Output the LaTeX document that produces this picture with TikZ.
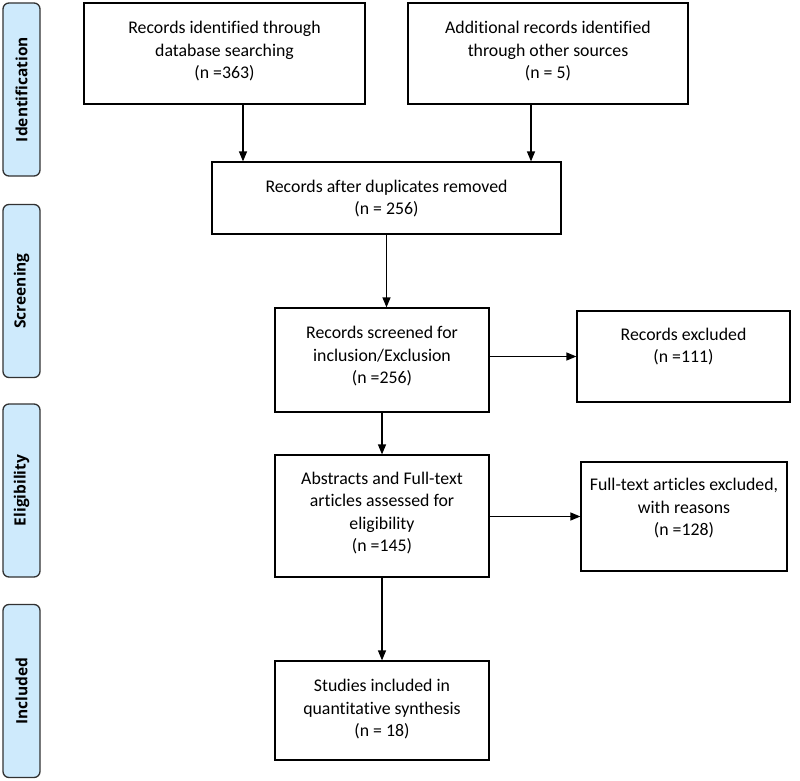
\documentclass[tikz,border=0pt]{standalone}
\usepackage{fontspec}
\setmainfont{Carlito}[Ligatures=NoCommon]
\newfontfamily\sidefont{Open Sans}
\usetikzlibrary{arrows.meta,calc}
\definecolor{sideblue}{RGB}{206,234,252}
\definecolor{sideedge}{RGB}{50,50,50}
\begin{document}
\begin{tikzpicture}[x=1pt,y=-1pt,
  boxnode/.style={draw=black,line width=1.2pt,inner sep=0pt},
  txt/.style={anchor=north,align=center,inner sep=0pt,font=\fontsize{17.8}{22.5}\selectfont},
  sidebox/.style={draw=sideedge,fill=sideblue,line width=1.3pt,rounded corners=6pt,inner sep=0pt,minimum width=37pt,minimum height=173pt},
  sidetxt/.style={rotate=90,font=\sidefont\bfseries\fontsize{15.5}{18}\selectfont},
  arr/.style={line width=1.2pt,-{Triangle[length=10pt,width=8pt]}}]
\useasboundingbox (0,0) rectangle (800,781);

% side labels
\node[sidebox] (s1) at (21.5,89.5) {};
\node[sidetxt] (s1t) at (s1.center) {Identification};
\node[sidebox] (s2) at (21.5,291) {};
\node[sidetxt] (s2t) at (s2.center) {Screening};
\node[sidebox] (s3) at (21.5,490.5) {};
\node[sidetxt] (s3t) at (s3.center) {Eligibility};
\node[sidebox] (s4) at (21.5,691) {};
\node[sidetxt] (s4t) at (s4.center) {Included};

% boxes
\node[boxnode,minimum width=281pt,minimum height=101pt] (b1) at (224.5,53.5) {};
\node[txt] (t1) at ([yshift=-19pt]b1.north) {Records identified through\\database searching\\(n =363)};

\node[boxnode,minimum width=280pt,minimum height=101pt] (b2) at (548,53.5) {};
\node[txt] (t2) at ([yshift=-19pt]b2.north) {Additional records identified\\through other sources\\(n = 5)};

\node[boxnode,minimum width=349pt,minimum height=72pt] (b3) at (386.5,198) {};
\node[txt] (t3) at ([yshift=-18.5pt]b3.north) {Records after duplicates removed\\(n = 256)};

\node[boxnode,minimum width=214pt,minimum height=104pt] (b4) at (382,360) {};
\node[txt] (t4) at ([yshift=-19pt]b4.north) {Records screened for\\inclusion/Exclusion\\(n =256)};

\node[boxnode,minimum width=213pt,minimum height=91pt] (b5) at (683.5,356.5) {};
\node[txt] (t5) at ([yshift=-17.5pt]b5.north) {Records excluded\\(n =111)};

\node[boxnode,minimum width=214pt,minimum height=122pt] (b6) at (382,516) {};
\node[txt] (t6) at ([yshift=-17.5pt]b6.north) {Abstracts and Full-text\\articles assessed for\\eligibility\\(n =145)};

\node[boxnode,minimum width=206pt,minimum height=109pt] (b7) at (684,516.5) {};
\node[txt] (t7) at ([yshift=-17pt]b7.north) {Full-text articles excluded,\\with reasons\\(n =128)};

\node[boxnode,minimum width=214pt,minimum height=99pt] (b8) at (382,710.5) {};
\node[txt] (t8) at ([yshift=-19pt]b8.north) {Studies included in\\quantitative synthesis\\(n = 18)};

% connectors
\draw[arr] ([xshift=18.5pt]b1.south) -- ([xshift=18.5pt]b1.south |- b3.north);
\draw[arr] ([xshift=-17pt]b2.south) -- ([xshift=-17pt]b2.south |- b3.north);
\draw[arr] (b3.south) -- (b3.south |- b4.north);
\draw[arr] (b4.east |- b5.west) -- (b5.west);
\draw[arr] (b4.south) -- (b6.north);
\draw[arr] (b6.east |- b7.west) -- (b7.west);
\draw[arr] (b6.south) -- (b8.north);
\end{tikzpicture}
\end{document}
